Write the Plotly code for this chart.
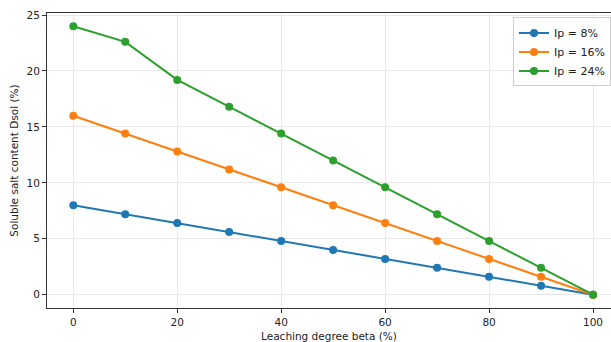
import plotly.graph_objects as go

beta = [0, 10, 20, 30, 40, 50, 60, 70, 80, 90, 100]
ip8 = [8.0, 7.2, 6.4, 5.6, 4.8, 4.0, 3.2, 2.4, 1.6, 0.8, 0.0]
ip16 = [16.0, 14.4, 12.8, 11.2, 9.6, 8.0, 6.4, 4.8, 3.2, 1.6, 0.0]
ip24 = [24.0, 22.6, 19.2, 16.8, 14.4, 12.0, 9.6, 7.2, 4.8, 2.4, 0.0]
names = ["Ip = 8%", "Ip = 16%", "Ip = 24%"]
colors = ["#1f77b4", "#ff7f0e", "#2ca02c"]

fig = go.Figure()
for ys, n, c in zip([ip8, ip16, ip24], names, colors):
    fig.add_trace(go.Scatter(x=beta, y=ys, mode="lines+markers", name=n,
                             line=dict(color=c, width=2),
                             marker=dict(color=c, size=8)))

font = dict(family="DejaVu Sans", size=10.5, color="#222")
fig.update_layout(
    width=611, height=342,
    margin=dict(l=47, r=0, t=13, b=34),
    paper_bgcolor="white", plot_bgcolor="white",
    font=font,
    showlegend=True,
    legend=dict(x=1.0, xanchor="right", y=0.985, yanchor="top",
                bordercolor="#cccccc", borderwidth=1, bgcolor="rgba(255,255,255,0.9)",
                font=dict(family="DejaVu Sans", size=11, color="#222"),
                tracegroupgap=0, itemwidth=30),
    xaxis=dict(range=[-5.06, 103.46], tickvals=[0, 20, 40, 60, 80, 100],
               showgrid=True, gridcolor="#e8e8e8", gridwidth=1,
               showline=True, linecolor="#333", linewidth=1, mirror=True,
               ticks="outside", ticklen=4, tickcolor="#333", zeroline=False,
               title=dict(text="Leaching degree beta (%)", standoff=6,
                          font=dict(family="DejaVu Sans", size=10.5, color="#222"))),
    yaxis=dict(range=[-1.19, 25.18], tickvals=[0, 5, 10, 15, 20, 25],
               showgrid=True, gridcolor="#e8e8e8", gridwidth=1,
               showline=True, linecolor="#333", linewidth=1, mirror=False,
               ticks="outside", ticklen=4, tickcolor="#333", zeroline=False,
               title=dict(text="Soluble salt content Dsol (%)", standoff=5,
                          font=dict(family="DejaVu Sans", size=10.5, color="#222"))),
)
fig.write_html("out.html")
